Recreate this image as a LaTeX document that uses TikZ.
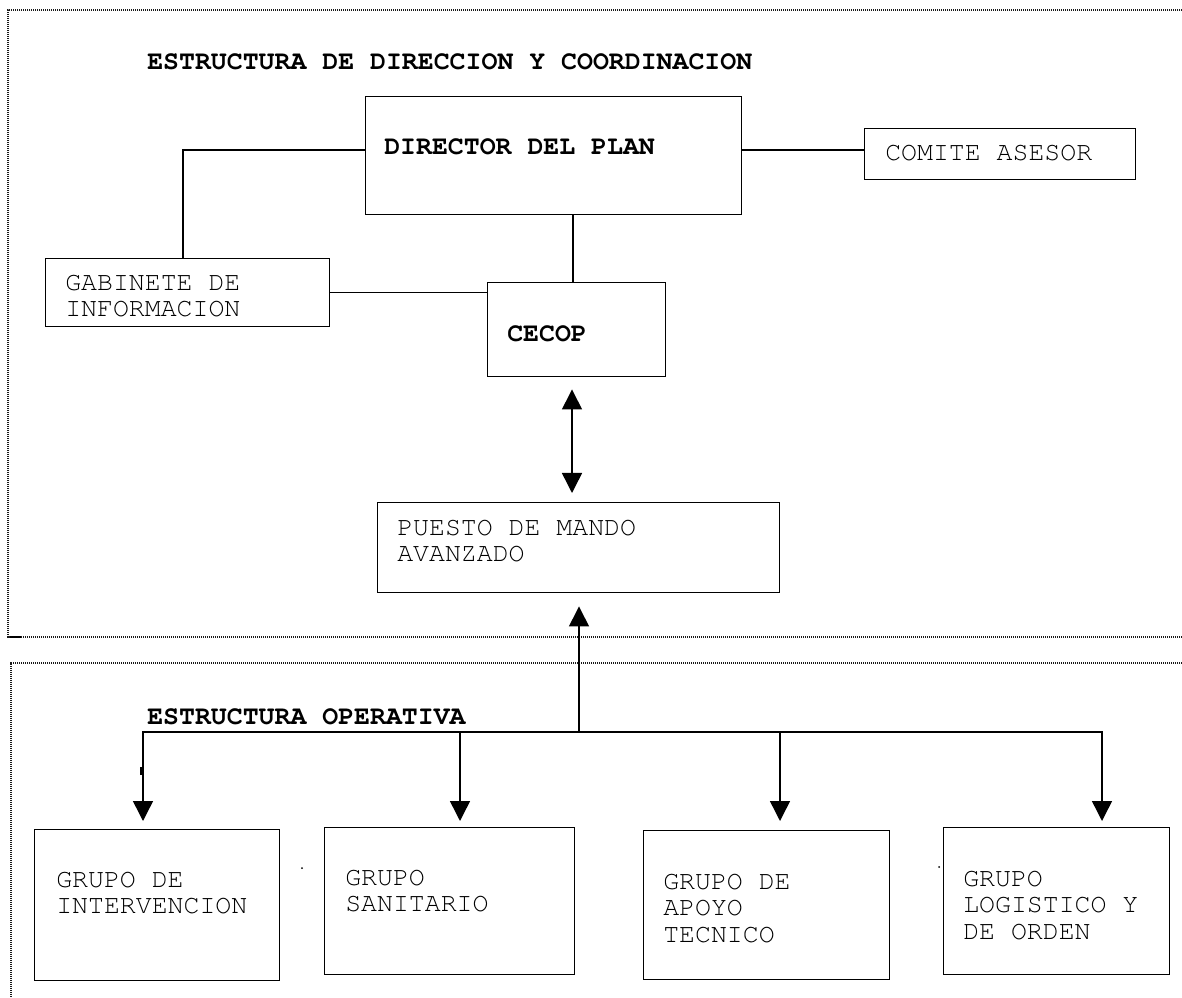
\documentclass[tikz,border=0pt]{standalone}
\usepackage[T1]{fontenc}
\usepackage{courier}
\usetikzlibrary{arrows.meta}
\begin{document}
\begin{tikzpicture}[x=0.75pt,y=-0.75pt,
  box/.style n args={4}{draw,line width=1.1pt,inner sep=0pt,anchor=north west,
    minimum width={(#3-#1)*0.75pt},minimum height={(#4-#2)*0.75pt},at={(#1,#2)}},
  lbl/.style={anchor=west,inner sep=0pt,align=left,font=\ttfamily\fontsize{19.9}{19.9}\selectfont},
  blbl/.style={lbl,font=\ttfamily\bfseries\fontsize{19.9}{19.9}\selectfont},
  conn/.style={line width=1.1pt},
  arr/.style={conn,-{Triangle[width=15pt,length=15pt]}},
  dbl/.style={conn,{Triangle[width=15pt,length=15pt]}-{Triangle[width=15pt,length=15pt]}},
  dotframe/.style={line width=0.8pt,dash pattern=on 0.8pt off 0.7pt,black!90}]
\useasboundingbox (0,0) rectangle (1182,998);
% frames
\draw[dotframe] (1182,10) -- (8,10) -- (8,637) -- (1182,637);
\draw[dotframe] (1182,663) -- (11,663) -- (11,998);
\draw[line width=1.5pt] (10,637) -- (21,637);
% boxes
\node[box={365}{96}{741}{214}] (dir) {};
\node[box={864}{128}{1135}{179}] (com) {};
\node[box={45}{258}{329}{326}] (gab) {};
\node[box={487}{282}{665}{376}] (cec) {};
\node[box={377}{502}{779}{592}] (pma) {};
\node[box={34}{829}{279}{980}] (g1) {};
\node[box={324}{827}{574}{974}] (g2) {};
\node[box={643}{830}{889}{979}] (g3) {};
\node[box={943}{827}{1169}{974}] (g4) {};
% helper coordinates
\coordinate (dl) at (0,150);
\coordinate (gx) at (183,0);
\coordinate (cx) at (573,0);
\coordinate (ax) at (572,0);
\coordinate (bus) at (579,732);
\coordinate (b1) at (143,0);
\coordinate (b2) at (460,0);
\coordinate (b3) at (780,0);
\coordinate (b4) at (1102,0);
% connectors
\draw[conn] (dir.west |- dl) -| (gab.north -| gx);
\draw[conn] (dir.east |- dl) -- (com.west |- dl);
\draw[conn] (dir.south -| cx) -- (cec.north -| cx);
\draw[conn] (gab.east) -- (gab.east -| cec.west);
\draw[dbl,shorten <=9pt,shorten >=6.75pt] (cec.south -| ax) -- (pma.north -| ax);
\draw[arr,shorten >=9.75pt] (bus) -- (pma.south -| bus);
\draw[arr,shorten >=6pt] (bus) -| (g1.north -| b1);
\draw[arr,shorten >=4.5pt] (bus -| b2) -- (g2.north -| b2);
\draw[arr,shorten >=6.75pt] (bus -| b3) -- (g3.north -| b3);
\draw[arr,shorten >=4.5pt] (bus) -| (g4.north -| b4);
% small marks
\draw[line width=1.5pt] (141,767) -- (141,775);
\fill (302,868) circle (1);
\fill (939,867) circle (1);
% texts
\node[blbl] (t1) at (147,62) {ESTRUCTURA DE DIRECCION Y COORDINACION};
\node[blbl] (tdir) at (384,147) {DIRECTOR DEL PLAN};
\node[lbl] (tcom) at (885,153) {COMITE ASESOR};
\node[lbl] (tgab) at (65,296) {GABINETE DE\\INFORMACION};
\node[blbl] (tcec) at (507,334) {CECOP};
\node[lbl] (tpma) at (397,541) {PUESTO DE MANDO\\AVANZADO};
\node[blbl] (t2) at (147,717) {ESTRUCTURA OPERATIVA};
\node[lbl] (tg1) at (56,893) {GRUPO DE\\INTERVENCION};
\node[lbl] (tg2) at (345,891) {GRUPO\\SANITARIO};
\node[lbl] (tg3) at (663,908) {GRUPO DE\\APOYO\\TECNICO};
\node[lbl] (tg4) at (963,905) {GRUPO\\LOGISTICO Y\\DE ORDEN};
\end{tikzpicture}
\end{document}
